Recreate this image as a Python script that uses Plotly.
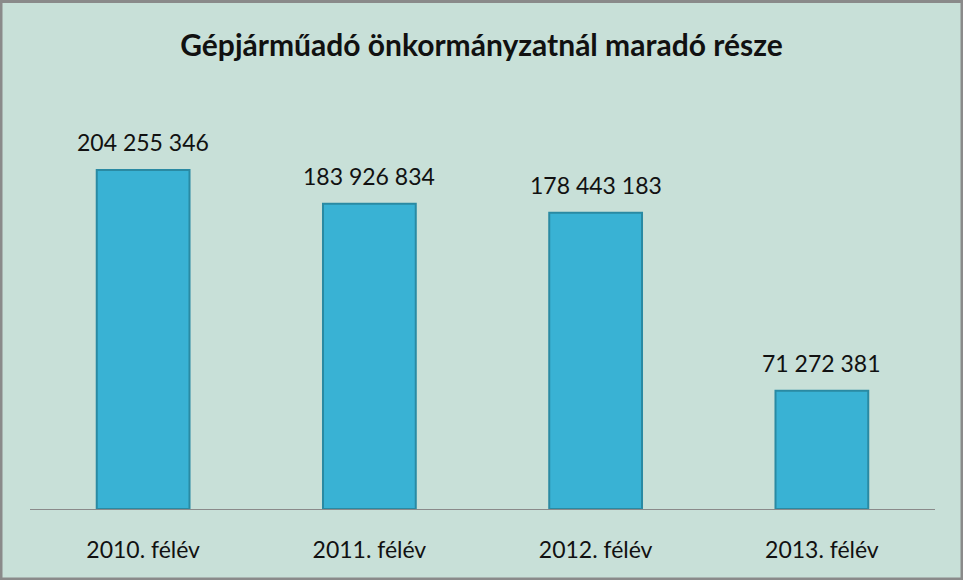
import plotly.graph_objects as go

categories = ["2010. félév", "2011. félév", "2012. félév", "2013. félév"]
values = [204255346, 183926834, 178443183, 71272381]
title_text = "Gépjárműadó önkormányzatnál maradó része"

labels = [f"{v:,}".replace(",", " ") for v in values]

fig = go.Figure()
fig.add_trace(go.Bar(
    x=categories, y=values,
    marker=dict(color="#39b2d4", line=dict(color="#2a8aa3", width=2)),
    hoverinfo="x+y",
))

annotations = [
    dict(x=c, y=v, text=t, showarrow=False, xref="x", yref="y",
         yanchor="middle", yshift=28,
         font=dict(size=23, color="#111111", family="Lato"))
    for c, v, t in zip(categories, values, labels)
]

fig.update_layout(
    width=963, height=580,
    paper_bgcolor="#c8e0d8", plot_bgcolor="#c8e0d8",
    margin=dict(l=30, r=28, t=94, b=71),
    bargap=0.59,
    showlegend=False,
    annotations=annotations,
    title=dict(text="<b>" + title_text + "</b>", x=0.5, xanchor="center",
               y=1 - 45 / 580, yanchor="middle",
               font=dict(size=30, color="#111111", family="Lato")),
    xaxis=dict(showline=True, linecolor="#8a8a8a", linewidth=1, ticks="",
               tickfont=dict(size=23, color="#111111", family="Lato"),
               showgrid=False, ticklabelstandoff=20),
    yaxis=dict(range=[0, 250000000], visible=False, showgrid=False),
    shapes=[dict(type="rect", xref="paper", yref="paper",
                 x0=-30/905 + 1.0/905, x1=1 + 28/905 - 1.0/905,
                 y0=-71/415 + 1.0/415, y1=1 + 94/415 - 1.5/415,
                 line=dict(color="#8a8a8a", width=3), fillcolor="rgba(0,0,0,0)")],
)

fig.write_html("out.html", config={"displayModeBar": False},
               post_script="document.body.style.margin='0';")
